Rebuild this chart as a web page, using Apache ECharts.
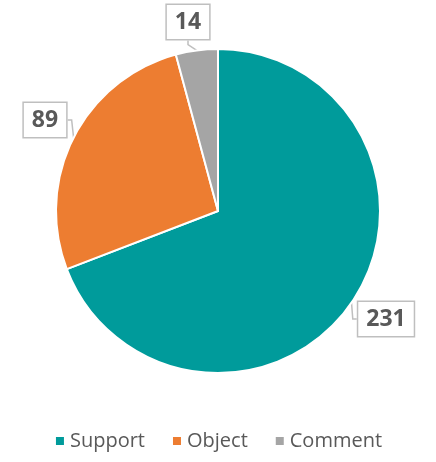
<!DOCTYPE html>
<html><head><meta charset="utf-8">
<script src="https://cdn.jsdelivr.net/npm/echarts@6/dist/echarts.min.js"></script>
<style>html,body{margin:0;padding:0;background:#fff}#c{width:436px;height:462px}</style>
</head><body><div id="c"></div>
<script>
const categories = ['Support', 'Object', 'Comment'];
const values = [231, 89, 14];
const colors = ['#009B9B', '#ED7D31', '#A5A5A5'];
const labelPos = [[386, 319], [45, 120], [188, 22]];

const chart = echarts.init(document.getElementById('c'));
chart.setOption({
  animation: false,
  color: colors,
  legend: {
    bottom: 6, left: 'center', icon: 'rect', itemWidth: 10, itemHeight: 10, itemGap: 26,
    textStyle: { fontSize: 20, color: '#595959', fontFamily: 'Open Sans' },
    data: categories
  },
  series: [{
    type: 'pie',
    center: [218, 211],
    radius: [0, 162],
    startAngle: 90,
    clockwise: true,
    itemStyle: { borderColor: '#fff', borderWidth: 2 },
    label: {
      show: true, position: 'outside', formatter: '{c}',
      fontSize: 23, fontWeight: 'bold', color: '#595959', fontFamily: 'Open Sans',
      backgroundColor: '#fff', borderColor: '#bfbfbf', borderWidth: 1.5, padding: [7, 8, 4, 8]
    },
    labelLine: { show: true, length: 6, length2: 4, lineStyle: { color: '#bfbfbf', width: 1.5 } },
    labelLayout: function (p) {
      const pos = labelPos[p.dataIndex];
      return { x: pos[0], y: pos[1], align: 'center', verticalAlign: 'middle' };
    },
    data: categories.map((n, i) => ({ name: n, value: values[i] }))
  }]
});
</script></body></html>
